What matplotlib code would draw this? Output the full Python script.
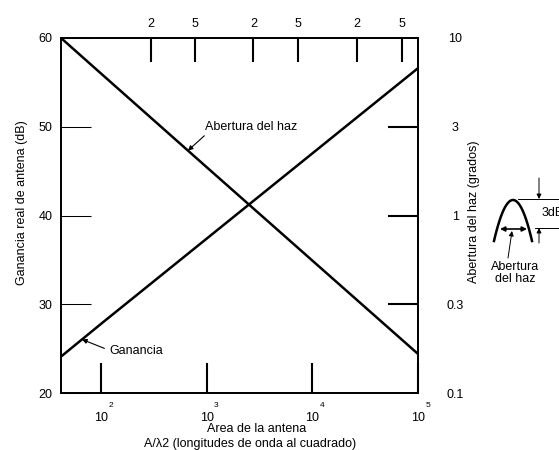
import matplotlib
matplotlib.use("Agg")
import matplotlib.pyplot as plt
import numpy as np
from matplotlib.ticker import FixedLocator, NullLocator

plt.rcParams['font.family'] = ['Liberation Sans', 'DejaVu Sans']

# antenna area in square wavelengths (x axis, log)
area = [41.7, 1e2, 1e3, 1e4, 1e5]
# real antenna gain, dB (left axis)
gain_db = [24.1, 27.8, 37.4, 47.0, 56.6]
# beamwidth, degrees (right axis, log)
beam_deg = [10.0, 6.3, 1.87, 0.557, 0.166]

gain_ticks = [20, 30, 40, 50, 60]
beam_ticks = [10 ** -0.5, 1, 10 ** 0.5]
beam_tick_labels = ['0.3', '1', '3']
beam_end_ticks = [0.1, 10]
beam_end_labels = ['0.1', '10']
area_ticks = [1e2, 1e3, 1e4, 1e5]
area_exponents = ['2', '3', '4', '5']
top_ticks = [294, 766, 2761, 7345, 26420, 70310]
top_labels = ['2', '5', '2', '5', '2', '5']

W, H = 559, 450
fig = plt.figure(figsize=(W / 100, H / 100), dpi=100)
ax = fig.add_axes([61 / W, 57 / H, 357 / W, 355 / H])

ax.set_xscale('log')
ax.set_xlim(area[0], area[-1])
ax.set_ylim(20, 60)
ax.plot(area, gain_db, color='black', lw=1.8, solid_capstyle='butt')

ax.set_yticks(gain_ticks)
ax.tick_params(axis='y', direction='in', length=21.6, width=0.75, pad=6, labelsize=9)
ax.xaxis.set_major_locator(FixedLocator(area_ticks))
ax.xaxis.set_minor_locator(NullLocator())
ax.set_xticklabels(['10'] * len(area_ticks))
ax.tick_params(axis='x', direction='in', length=21.6, width=1.5, pad=13.5, labelsize=9)
for t, e in zip(area_ticks, area_exponents):
    ax.annotate(e, xy=(t, 0), xycoords=('data', 'axes fraction'), xytext=(7, -9),
                textcoords='offset points', fontsize=6, ha='center', va='center',
                annotation_clip=False)

# right axis: beamwidth
ax2 = ax.twinx()
ax2.set_yscale('log')
ax2.set_ylim(0.1, 10)
ax2.plot(area, beam_deg, color='black', lw=1.8, solid_capstyle='butt')
ax2.yaxis.set_major_locator(FixedLocator(beam_ticks))
ax2.yaxis.set_minor_locator(FixedLocator(beam_end_ticks))
ax2.set_yticklabels(beam_tick_labels)
ax2.set_yticklabels(beam_end_labels, minor=True)
ax2.tick_params(which='major', direction='in', length=21.6, width=1.5, pad=27, labelsize=9)
ax2.tick_params(which='minor', direction='in', length=0, pad=27, labelsize=9)
for lab in ax2.get_yticklabels(which='both'):
    lab.set_ha('center')

# top axis
ax_top = ax.twiny()
ax_top.set_xscale('log')
ax_top.set_xlim(area[0], area[-1])
ax_top.xaxis.set_major_locator(FixedLocator(top_ticks))
ax_top.xaxis.set_minor_locator(NullLocator())
ax_top.set_xticklabels(top_labels)
ax_top.tick_params(direction='in', length=17.3, width=1.5, pad=6, labelsize=9)

for a in (ax, ax2, ax_top):
    for sp in a.spines.values():
        sp.set_linewidth(1.1)

# line labels
la = np.log10(area)
beam_x = 664
beam_y = 10 ** np.interp(np.log10(beam_x), la, np.log10(beam_deg))
ax2.annotate('Abertura del haz', xy=(beam_x, beam_y), xytext=(12, 17),
             textcoords='offset points', fontsize=9, ha='left', va='center',
             arrowprops=dict(arrowstyle='-|>', lw=0.8, color='black', mutation_scale=7,
                             shrinkA=0, shrinkB=0, relpos=(0.03, 0.0)))
gain_x = 65.9
gain_y = np.interp(np.log10(gain_x), la, gain_db)
ax.annotate('Ganancia', xy=(gain_x, gain_y), xytext=(20, -8),
            textcoords='offset points', fontsize=9, ha='left', va='center',
            arrowprops=dict(arrowstyle='-|>', lw=0.8, color='black', mutation_scale=7,
                            shrinkA=2, shrinkB=0, relpos=(0.0, 0.5)))

# axis titles
fig.text(22 / W, 1 - 203 / H, 'Ganancia real de antena (dB)', rotation=90,
         ha='center', va='center', fontsize=9)
fig.text(474 / W, 1 - 212 / H, 'Abertura del haz (grados)', rotation=90,
         ha='center', va='center', fontsize=9)
fig.text(257 / W, 1 - 429.5 / H, 'Area de la antena', ha='center', va='center', fontsize=9)
fig.text(250 / W, 1 - 443.5 / H, 'A/λ2 (longitudes de onda al cuadrado)',
         ha='center', va='center', fontsize=9)

# small beam sketch on the right
ax_in = fig.add_axes([0, 0, 1, 1])
ax_in.set_xlim(0, W)
ax_in.set_ylim(H, 0)
ax_in.axis('off')
t = np.linspace(-1, 1, 80)
ax_in.plot(513 + 19 * t, 200 + 41 * t ** 2, color='black', lw=1.8)
ax_in.plot([518, 560], [199, 199], color='black', lw=0.7)
ax_in.plot([535, 560], [228, 228], color='black', lw=0.7)
arw = dict(arrowstyle='-|>', lw=0.7, color='black', mutation_scale=7, shrinkA=0, shrinkB=0)
ax_in.annotate('', xy=(539, 199), xytext=(539, 178), arrowprops=arw)
ax_in.annotate('', xy=(539, 228), xytext=(539, 243), arrowprops=arw)
ax_in.annotate('', xy=(527, 229), xytext=(500, 229),
               arrowprops=dict(arrowstyle='<|-|>', lw=1.2, color='black', mutation_scale=7,
                               shrinkA=0, shrinkB=0))
ax_in.annotate('', xy=(512, 231), xytext=(508, 258), arrowprops=arw)
ax_in.text(542, 213, '3dB', ha='left', va='center', fontsize=9)
ax_in.text(515, 273, 'Abertura\ndel haz', ha='center', va='center', fontsize=9,
           linespacing=1.05)

fig.savefig('out.png', dpi=100)
